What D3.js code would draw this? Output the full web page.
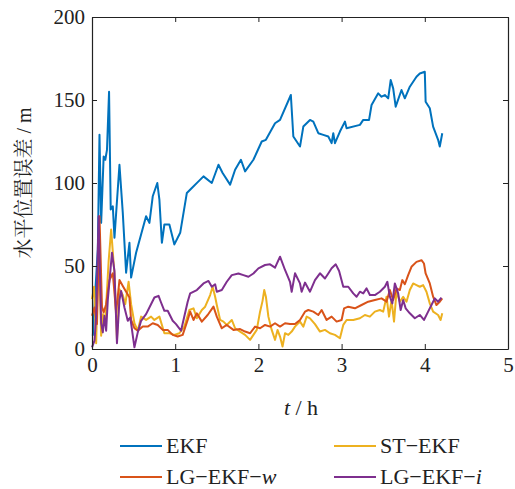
<!DOCTYPE html>
<html>
<head>
<meta charset="utf-8">
<script src="https://cdn.jsdelivr.net/npm/d3@7"></script>
</head>
<body style="margin:0;background:#fff">
<div id="chart"></div>
<script>
// [t (h), horizontal error (m)]
const ekf = [
  [0.01, 8], [0.04, 35], [0.07, 60], [0.09, 129], [0.11, 76], [0.14, 116], [0.16, 114], [0.18, 120],
  [0.205, 155], [0.225, 84], [0.25, 86], [0.27, 67], [0.33, 111], [0.37, 82], [0.41, 46], [0.45, 64],
  [0.47, 43], [0.53, 58], [0.59, 69], [0.65, 80], [0.69, 76], [0.73, 92], [0.785, 100], [0.81, 90],
  [0.84, 64], [0.87, 75], [0.93, 75], [0.99, 63], [1.06, 70], [1.14, 94], [1.2, 97], [1.28, 101],
  [1.34, 104], [1.44, 100], [1.52, 111], [1.57, 106], [1.66, 99], [1.72, 108], [1.79, 114], [1.84, 107],
  [1.94, 114], [2.04, 125], [2.09, 126], [2.2, 136], [2.26, 138], [2.39, 153], [2.42, 128], [2.5, 122],
  [2.54, 134], [2.62, 138], [2.66, 137], [2.72, 130], [2.78, 129], [2.84, 128], [2.88, 124], [2.9, 130],
  [2.92, 124], [2.98, 131], [3.04, 137], [3.06, 133], [3.22, 135], [3.26, 138], [3.33, 138], [3.36, 147],
  [3.44, 154], [3.48, 152], [3.52, 153], [3.56, 151], [3.59, 162], [3.62, 157], [3.65, 146], [3.72, 156],
  [3.76, 151], [3.82, 158], [3.9, 164], [3.94, 166], [4.0, 167], [4.01, 149], [4.06, 145], [4.1, 134],
  [4.16, 126], [4.18, 122], [4.21, 130]
]
const stEkf = [
  [0.0, 30], [0.025, 37.5], [0.05, 3.5], [0.08, 65], [0.11, 8], [0.13, 21], [0.16, 17], [0.2, 53],
  [0.23, 72], [0.27, 45], [0.30, 6], [0.33, 36], [0.37, 32.5], [0.40, 27], [0.44, 40.5], [0.47, 27],
  [0.51, 15.5], [0.55, 11], [0.59, 19.5], [0.65, 17.5], [0.71, 19.5], [0.75, 17.5], [0.81, 19.5], [0.87, 9.5],
  [0.93, 9.5], [0.99, 8.5], [1.05, 9.5], [1.11, 13.5], [1.17, 23.5], [1.22, 24.5], [1.26, 18.5], [1.32, 23.5],
  [1.36, 25.5], [1.42, 32.5], [1.45, 37.5], [1.48, 31.5], [1.5, 26.5], [1.54, 17.5], [1.58, 16.5], [1.62, 14.5],
  [1.68, 17.5], [1.72, 12.5], [1.78, 10.5], [1.84, 8.5], [1.9, 5.5], [1.94, 8.5], [1.98, 11.5], [2.02, 22.5],
  [2.05, 29], [2.07, 35.5], [2.09, 31.5], [2.12, 19.5], [2.16, 11.5], [2.2, 5.5], [2.23, 11.5], [2.26, 7.5],
  [2.29, 1.5], [2.32, 9.5], [2.36, 8.5], [2.4, 10.5], [2.44, 13.5], [2.5, 16.5], [2.54, 13.5], [2.58, 19.5],
  [2.62, 18.5], [2.68, 15], [2.74, 10.5], [2.8, 11.5], [2.86, 9.5], [2.92, 8.5], [2.98, 6.5], [3.02, 14.5],
  [3.06, 17.5], [3.14, 17.5], [3.22, 18.5], [3.28, 20.5], [3.34, 19.5], [3.4, 22.5], [3.46, 23.5], [3.5, 22.5],
  [3.54, 31.5], [3.57, 19.5], [3.6, 29.5], [3.63, 16.5], [3.66, 34.5], [3.7, 28.5], [3.74, 31.5], [3.78, 28.5],
  [3.82, 35.5], [3.86, 39.5], [3.9, 38.5], [3.94, 37.5], [3.98, 38.5], [4.02, 34.5], [4.06, 27.5], [4.1, 22.5],
  [4.16, 20.5], [4.19, 17.5], [4.21, 21.5]
]
const lgEkfW = [
  [0.0, 20], [0.03, 25], [0.06, 15], [0.09, 80], [0.12, 25.5], [0.14, 22], [0.17, 27], [0.21, 41.5],
  [0.25, 45.6], [0.29, 22], [0.33, 41.5], [0.37, 38], [0.41, 34.5], [0.45, 31], [0.47, 17.5], [0.51, 12.5],
  [0.55, 11], [0.61, 13.5], [0.67, 13.5], [0.73, 15.5], [0.79, 14.5], [0.85, 11.5], [0.91, 11.5], [0.97, 8.5],
  [1.03, 7.5], [1.09, 8.5], [1.15, 17.5], [1.18, 22.5], [1.22, 17.5], [1.26, 21.5], [1.32, 16.5], [1.39, 20.5],
  [1.46, 25.5], [1.5, 19.5], [1.56, 12.5], [1.62, 14.5], [1.7, 11.5], [1.78, 12], [1.84, 10.5], [1.9, 9.5],
  [1.96, 13.5], [2.02, 12.5], [2.08, 14.5], [2.14, 13.5], [2.2, 15.5], [2.26, 13.5], [2.32, 15.5], [2.38, 15],
  [2.44, 15], [2.5, 17.5], [2.56, 22.5], [2.6, 23.5], [2.66, 22.5], [2.72, 20.5], [2.76, 23.5], [2.82, 17.5],
  [2.88, 19.5], [2.94, 16.5], [3.0, 17.5], [3.03, 24.5], [3.08, 25.5], [3.16, 24.5], [3.24, 26.5], [3.32, 28.5],
  [3.4, 29.5], [3.48, 30.5], [3.54, 28.5], [3.58, 35.5], [3.62, 29.5], [3.66, 36.5], [3.7, 35.5], [3.73, 41.5],
  [3.76, 39], [3.8, 44.5], [3.84, 49.5], [3.9, 52.5], [3.96, 53.5], [3.99, 51.5], [4.01, 45.5], [4.06, 39.5],
  [4.1, 31.5], [4.14, 26.5], [4.18, 28.5], [4.21, 30.5]
]
const lgEkfI = [
  [0.0, 1], [0.03, 5], [0.05, 20], [0.08, 80], [0.11, 15.5], [0.13, 10], [0.15, 20], [0.17, 11],
  [0.19, 29.5], [0.24, 58], [0.27, 47], [0.30, 3.5], [0.33, 29.5], [0.35, 35], [0.39, 25], [0.43, 17],
  [0.46, 19], [0.51, 1], [0.55, 10], [0.59, 17], [0.65, 21], [0.69, 25], [0.75, 31], [0.8, 32],
  [0.83, 28], [0.87, 23], [0.91, 23], [0.97, 17], [1.01, 15], [1.07, 11], [1.15, 28.5], [1.18, 33.5],
  [1.26, 35.5], [1.34, 39.5], [1.4, 41], [1.44, 37.5], [1.48, 39], [1.5, 34.5], [1.56, 35.5], [1.62, 40.5],
  [1.68, 44.5], [1.76, 45.5], [1.82, 44.5], [1.88, 43.5], [1.94, 45.5], [2.0, 48.6], [2.08, 50.6], [2.14, 51],
  [2.2, 49], [2.26, 55.6], [2.32, 47.6], [2.38, 40.5], [2.4, 34.5], [2.44, 45.6], [2.5, 39.5], [2.52, 34.5],
  [2.56, 40], [2.62, 34.5], [2.68, 41.5], [2.74, 45.6], [2.8, 42.5], [2.84, 45.5], [2.88, 48.6], [2.93, 51],
  [2.97, 47], [3.02, 37.5], [3.08, 37.5], [3.14, 33.5], [3.18, 31.5], [3.22, 34.5], [3.26, 33.5], [3.3, 36.5],
  [3.34, 32.5], [3.4, 32.5], [3.46, 34.5], [3.52, 37.5], [3.55, 40.5], [3.58, 31.5], [3.61, 27.5], [3.64, 39.5],
  [3.68, 33.5], [3.71, 23.5], [3.74, 29.5], [3.77, 24.5], [3.82, 21.5], [3.88, 18.5], [3.94, 20.5], [3.99, 17.5],
  [4.04, 22.5], [4.08, 26.5], [4.12, 30.5], [4.16, 28.5], [4.2, 31]
]

const xTicks = [0, 1, 2, 3, 4, 5]
const yTicks = [0, 50, 100, 150, 200]
const seriesNames = ['EKF', 'ST−EKF', 'LG−EKF−', 'LG−EKF−']
const seriesSuffix = ['', '', 'w', 'i']
const seriesColor = ['#0072BD', '#EDB120', '#D95319', '#7E2F8E']
const seriesData = [ekf, stEkf, lgEkfW, lgEkfI]

// single family names only (a fallback list fell back to sans here)
const serif = '"Liberation Serif"'
const cjkSerif = '"Noto Serif CJK SC"'
const ink = '#222'

const width = 515
const height = 489
const plotLeft = 92
const plotRight = 508
const plotTop = 17
const plotBottom = 349

const x = d3.scaleLinear().domain([0, 5]).range([plotLeft, plotRight])
const y = d3.scaleLinear().domain([0, 200]).range([plotBottom, plotTop])

const svg = d3.select('#chart').append('svg')
  .attr('width', width)
  .attr('height', height)
  .style('display', 'block')

// data lines
const line = d3.line()
  .x(d => x(d[0]))
  .y(d => y(d[1]))

svg.selectAll('.series')
  .data(seriesData)
  .enter().append('path')
  .attr('class', 'series')
  .attr('fill', 'none')
  .attr('stroke', (d, i) => seriesColor[i])
  .attr('stroke-width', 2)
  .attr('stroke-linejoin', 'round')
  .attr('d', line)

// box axes, ticks pointing inward
const fmt = d3.format('d')
svg.append('g')
  .attr('class', 'axis')
  .attr('transform', 'translate(0,' + plotBottom + ')')
  .call(d3.axisBottom(x).tickValues(xTicks).tickFormat(fmt).tickSize(-5).tickPadding(8).tickSizeOuter(0))

svg.append('g')
  .attr('class', 'axis')
  .attr('transform', 'translate(0,' + plotTop + ')')
  .call(d3.axisTop(x).tickValues(xTicks).tickSize(-5).tickFormat('').tickSizeOuter(0))

svg.append('g')
  .attr('class', 'axis')
  .attr('transform', 'translate(' + plotLeft + ',0)')
  .call(d3.axisLeft(y).tickValues(yTicks).tickFormat(fmt).tickSize(-5).tickPadding(7).tickSizeOuter(0))

svg.append('g')
  .attr('class', 'axis')
  .attr('transform', 'translate(' + plotRight + ',0)')
  .call(d3.axisRight(y).tickValues(yTicks).tickSize(-5).tickFormat('').tickSizeOuter(0))

svg.selectAll('.axis').attr('font-family', null).attr('font-size', null)
svg.selectAll('.axis .domain').attr('stroke', ink).attr('stroke-width', 1.2)
svg.selectAll('.axis line').attr('stroke', ink)
svg.selectAll('.axis text')
  .style('font-family', serif)
  .style('font-size', '21px')
  .attr('fill', ink)

// axis titles
const xTitle = svg.append('text')
  .attr('x', 301)
  .attr('y', 415)
  .attr('text-anchor', 'middle')
  .style('font-family', serif)
  .style('font-size', '22px')
  .attr('fill', ink)
xTitle.append('tspan').style('font-style', 'italic').text('t')
xTitle.append('tspan').text(' / h')

const yTitle = svg.append('text')
  .attr('transform', 'translate(31,183) rotate(-90)')
  .attr('text-anchor', 'middle')
  .style('font-size', '20px')
  .attr('fill', ink)
yTitle.append('tspan').style('font-family', cjkSerif).text('水平位置误差')
yTitle.append('tspan').style('font-family', serif).text(' / m')

// legend, two columns
const legendX = [120, 334]
const legendY = [446, 477]
const legend = svg.selectAll('.legend')
  .data(seriesNames)
  .enter().append('g')
  .attr('class', 'legend')
  .attr('transform', (d, i) => 'translate(' + legendX[i % 2] + ',' + legendY[Math.floor(i / 2)] + ')')

legend.append('line')
  .attr('x1', 0)
  .attr('x2', 42)
  .attr('stroke', (d, i) => seriesColor[i])
  .attr('stroke-width', 2)

const legendText = legend.append('text')
  .attr('x', 46)
  .attr('y', 7)
  .style('font-family', serif)
  .style('font-size', '22px')
  .attr('fill', ink)
legendText.append('tspan').text(d => d)
legendText.append('tspan')
  .style('font-style', 'italic')
  .text((d, i) => seriesSuffix[i])
</script>
</body>
</html>
